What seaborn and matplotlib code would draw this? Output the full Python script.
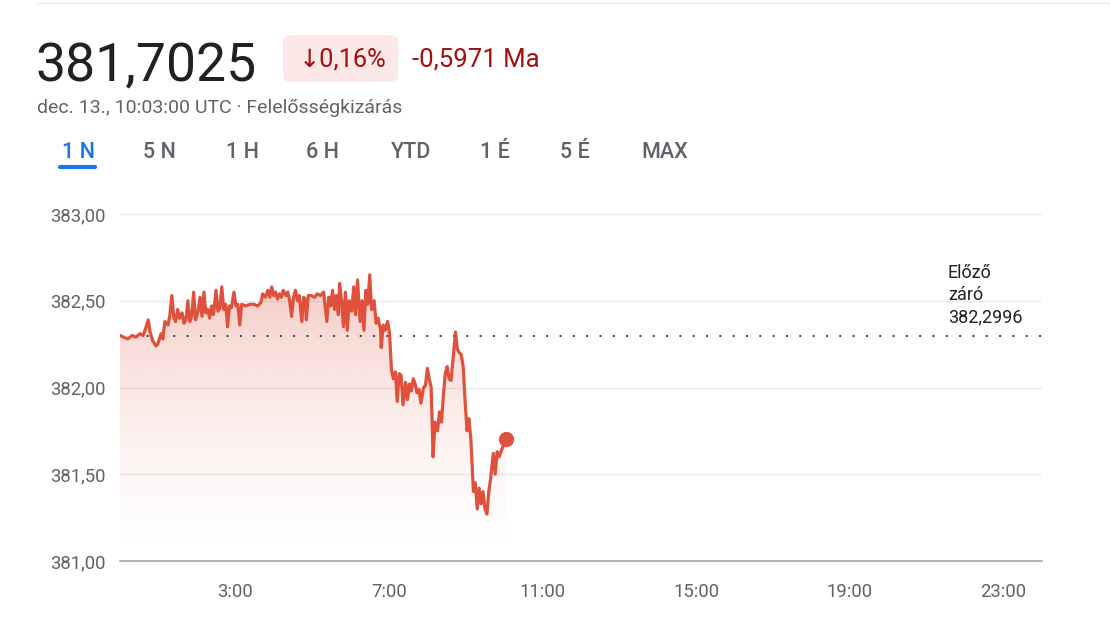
import numpy as np
import pandas as pd
import matplotlib
matplotlib.use("Agg")
import matplotlib.pyplot as plt
from matplotlib.patches import FancyBboxPatch
import seaborn as sns

# ---------------- data ----------------
minutes = [0, 6, 12, 19, 25, 31, 36, 40, 44, 47, 51, 56, 59, 64, 67, 70, 75, 78, 81, 84,
           87, 90, 93, 97, 100, 103, 106, 109, 112, 115, 118, 122, 125, 128, 131, 134, 137, 140, 143, 146,
           150, 153, 156, 159, 162, 165, 168, 171, 174, 178, 181, 184, 187, 190, 196, 203, 209, 215, 220, 223,
           227, 231, 234, 237, 240, 243, 246, 249, 252, 255, 259, 262, 265, 268, 271, 274, 277, 280, 284, 287,
           290, 291, 294, 299, 304, 308, 313, 318, 323, 326, 329, 332, 335, 338, 341, 343, 346, 349, 352, 355,
           358, 362, 365, 368, 371, 375, 378, 381, 384, 387, 390, 393, 397, 400, 403, 407, 408, 411, 414, 418,
           421, 424, 427, 430, 433, 436, 439, 442, 446, 449, 452, 455, 458, 461, 464, 467, 470, 474, 477, 480,
           483, 486, 489, 492, 496, 499, 502, 505, 508, 511, 514, 517, 521, 524, 527, 530, 533, 536, 539, 542,
           545, 548, 552, 555, 558, 561, 564, 567, 570, 573, 576, 579, 583, 586, 589, 592, 595, 598, 603]
prices = [382.30, 382.29, 382.28, 382.30, 382.29, 382.31, 382.30, 382.34, 382.39, 382.32,
          382.27, 382.24, 382.25, 382.31, 382.28, 382.38, 382.36, 382.42, 382.53, 382.40,
          382.38, 382.45, 382.40, 382.43, 382.37, 382.39, 382.50, 382.38, 382.41, 382.55,
          382.39, 382.44, 382.52, 382.41, 382.55, 382.43, 382.45, 382.40, 382.47, 382.42,
          382.56, 382.44, 382.46, 382.58, 382.45, 382.48, 382.35, 382.47, 382.46, 382.55,
          382.47, 382.48, 382.36, 382.48, 382.47, 382.48, 382.48, 382.47, 382.49, 382.54,
          382.52, 382.56, 382.52, 382.58, 382.53, 382.55, 382.51, 382.54, 382.52, 382.56,
          382.53, 382.55, 382.50, 382.41, 382.52, 382.56, 382.50, 382.53, 382.38, 382.52,
          382.50, 382.39, 382.53, 382.53, 382.52, 382.54, 382.53, 382.55, 382.38, 382.52,
          382.47, 382.56, 382.45, 382.53, 382.42, 382.60, 382.50, 382.35, 382.55, 382.33,
          382.50, 382.44, 382.58, 382.42, 382.62, 382.38, 382.50, 382.33, 382.56, 382.48,
          382.65, 382.45, 382.50, 382.37, 382.40, 382.33, 382.23, 382.36, 382.33, 382.38,
          382.31, 382.10, 382.05, 382.09, 381.92, 382.08, 382.07, 381.90, 382.03, 381.93,
          382.02, 381.98, 382.05, 382.02, 381.97, 381.99, 381.91, 382.00, 382.01, 382.11,
          382.05, 382.00, 381.60, 381.80, 381.75, 381.86, 381.80, 381.95, 382.08, 382.12,
          382.05, 382.04, 382.20, 382.32, 382.22, 382.20, 382.19, 382.12, 381.92, 381.75,
          381.82, 381.70, 381.40, 381.45, 381.30, 381.42, 381.33, 381.40, 381.30, 381.27,
          381.40, 381.48, 381.62, 381.50, 381.63, 381.60, 381.63, 381.66, 381.7025]

prev_close = 382.2996
y_ticks = [381.0, 381.5, 382.0, 382.5, 383.0]
y_tick_labels = ["381,00", "381,50", "382,00", "382,50", "383,00"]
x_ticks_hours = [3, 7, 11, 15, 19, 23]
x_tick_labels = ["3:00", "7:00", "11:00", "15:00", "19:00", "23:00"]
tabs = ["1 N", "5 N", "1 H", "6 H", "YTD", "1 É", "5 É", "MAX"]
price_text = "381,7025"
change_pct = "↓0,16%"
change_abs = "-0,5971 Ma"
subtitle = "dec. 13., 10:03:00 UTC · Felelősségkizárás"
prev_label = "Előző\nzáró\n382,2996"

df = pd.DataFrame({"hour": np.array(minutes) / 60.0, "price": prices})

# ---------------- style ----------------
sns.set_theme(style="white")
plt.rcParams["font.family"] = ["Roboto", "DejaVu Sans"]

LINE = "#e0513d"
GREY = "#5f6368"
DARK = "#202124"

W, H = 1110, 624
fig = plt.figure(figsize=(W / 100, H / 100), dpi=100)
fig.patch.set_facecolor("white")

def fx(px):
    return px / W

def fy(py):
    return 1 - py / H

ax = fig.add_axes([fx(120), fy(561), fx(1042) - fx(120), fy(214) - fy(561)])
ax.set_xlim(0, 24)
ax.set_ylim(381, 383)

# gridlines
for v in y_ticks[1:]:
    ax.axhline(v, color="#ebebeb", lw=1, zorder=0)
ax.axhline(381, color="#b0b0b0", lw=1.4, zorder=1, clip_on=False)

# gradient fill under line
x = df["hour"].values
y = df["price"].values
poly = ax.fill_between(x, y, 381, color="none", lw=0)
grad = np.linspace(0, 1, 256).reshape(-1, 1)
rgba = np.zeros((256, 1, 4))
base = matplotlib.colors.to_rgb(LINE)
rgba[..., 0] = base[0]
rgba[..., 1] = base[1]
rgba[..., 2] = base[2]
rgba[..., 3] = (grad[::-1] ** 1.5) * 0.3
top = max(prices)
im = ax.imshow(rgba, extent=[0, 24, 381, top], aspect="auto", origin="upper", zorder=1)
path = poly.get_paths()[0]
im.set_clip_path(path, transform=ax.transData)

# previous close dotted line
ax.axhline(prev_close, color="#3c4043", lw=1.4, linestyle=(0, (1, 5.85)), zorder=2)

# price line
sns.lineplot(data=df, x="hour", y="price", ax=ax, color=LINE, lw=2.3, zorder=3)
ax.plot([x[-1]], [y[-1]], "o", color=LINE, markersize=10, zorder=4)

# axes styling
for s in ax.spines.values():
    s.set_visible(False)
ax.set_xlabel("")
ax.set_ylabel("")
ax.set_yticks(y_ticks)
ax.set_yticklabels(y_tick_labels, color=GREY, fontsize=13.3)
ax.tick_params(axis="y", length=0, pad=10)
ax.set_xticks(x_ticks_hours)
ax.set_xticklabels(x_tick_labels, color=GREY, fontsize=13.3)
ax.tick_params(axis="x", length=5, width=2, color="#5f6368", pad=11, direction="out")

ax.text((948 - 120) / 38.42, prev_close + 0.055, prev_label,
        fontsize=13, color=DARK, ha="left", va="bottom", linespacing=1.3)

# header
fig.add_artist(plt.Line2D([fx(37), 1], [fy(3), fy(3)], color="#e8eaed", lw=1))
fig.text(fx(35), fy(81), price_text, fontsize=38.5, color=DARK, ha="left", va="baseline")
badge = FancyBboxPatch((fx(283), fy(82)), fx(115), fy(35) - fy(82),
                       boxstyle="round,pad=0,rounding_size=0.009",
                       transform=fig.transFigure, facecolor="#fce8e6", edgecolor="none")
fig.add_artist(badge)
fig.text(fx(299), fy(59), change_pct, fontsize=18.3, color="#a50e0e", ha="left", va="center")
fig.text(fx(412), fy(59), change_abs, fontsize=18.5, color="#a50e0e", ha="left", va="center")
fig.text(fx(37), fy(108), subtitle, fontsize=14, color=GREY, ha="left", va="center")

tab_x = [78, 159, 242, 323, 411, 495, 575, 665]
for i, (t, tx) in enumerate(zip(tabs, tab_x)):
    fig.text(fx(tx), fy(152), t, fontsize=15.5, ha="center", va="center",
             color="#1a73e8" if i == 0 else GREY, fontweight="medium")
fig.add_artist(plt.Line2D([fx(60), fx(95)], [fy(167), fy(167)], color="#1a73e8",
                          lw=3, solid_capstyle="round"))

fig.savefig("out.png", dpi=100, facecolor="white")
